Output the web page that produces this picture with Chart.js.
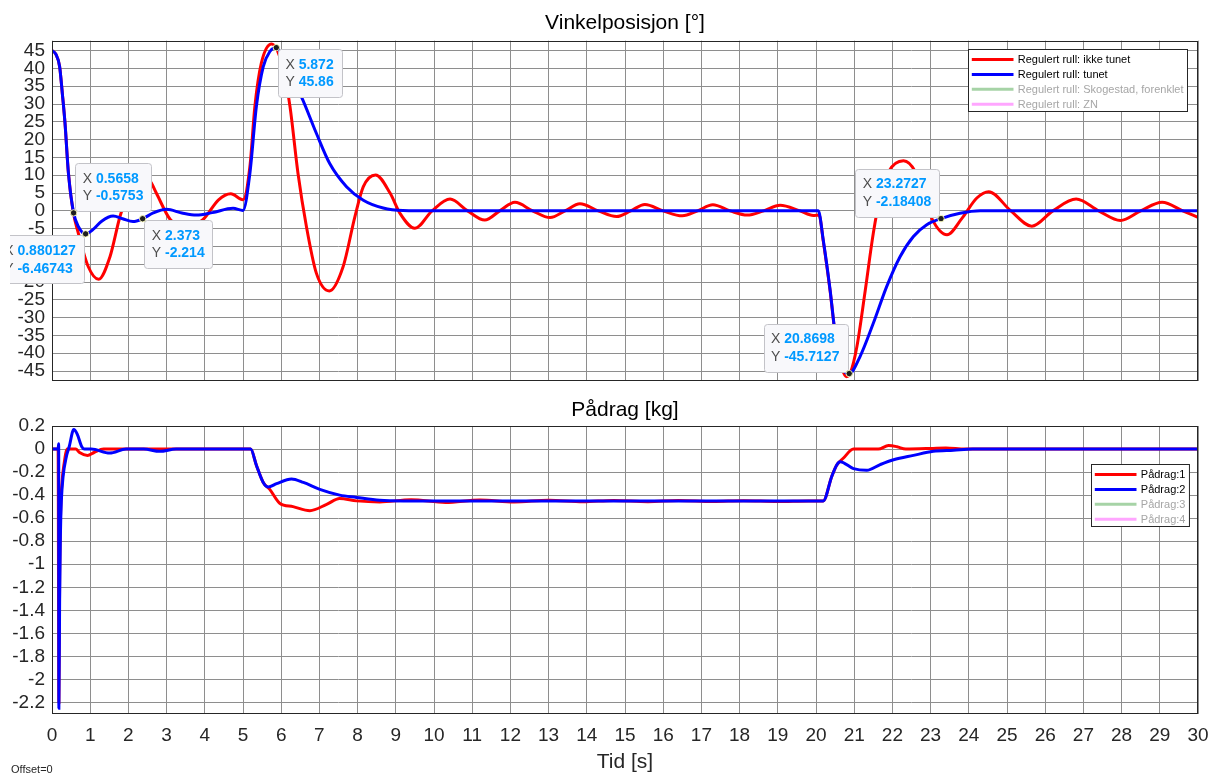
<!DOCTYPE html>
<html lang="no">
<head>
<meta charset="UTF-8">
<title>Vinkelposisjon og pådrag</title>
<script src="https://cdn.jsdelivr.net/npm/chart.js@4.4.1/dist/chart.umd.min.js"></script>
<style>
  html, body { margin: 0; padding: 0; background: #fff; }
  #wrap { position: relative; width: 1210px; height: 776px; overflow: hidden; }
  #vinkel { position: absolute; left: 0; top: 0; }
  #padrag { position: absolute; left: 0; top: 390px; }
  .offset { position: absolute; left: 11px; top: 763px; font: 11px "Liberation Sans", Arial, sans-serif; color: #262626; }
</style>
</head>
<body>
<div id="wrap">
  <canvas id="vinkel" width="1210" height="390"></canvas>
  <canvas id="padrag" width="1210" height="386"></canvas>
  <div class="offset">Offset=0</div>
</div>

<script>
// rulleposisjon, ikke tunet regulator
var tRull1 = [0, 0.1, 0.2, 0.27, 0.34, 0.43, 0.55, 0.69, 0.95, 1.22,
  1.52, 1.78, 2.05, 2.35, 2.56, 2.73, 3.1, 3.5, 3.95, 4.36,
  4.68, 5.0, 5.18, 5.31, 5.48, 5.75, 6.05, 6.23, 6.44, 6.66,
  6.92, 7.26, 7.62, 7.93, 8.15, 8.47, 8.85, 9.11, 9.5, 9.95,
  10.42, 10.88, 11.33, 11.72, 12.12, 12.58, 13.04, 13.43, 13.82, 14.3,
  14.78, 15.15, 15.52, 16.0, 16.5, 16.9, 17.3, 17.75, 18.2, 18.63,
  19.06, 19.58, 19.93, 20.08, 20.19, 20.37, 20.5, 20.68, 20.8, 20.9,
  21.07, 21.29, 21.5, 21.68, 21.9, 22.29, 22.6, 22.85, 23.03, 23.43,
  23.82, 24.21, 24.52, 25.1, 25.65, 26.2, 26.81, 27.4, 27.97, 28.5,
  29.06, 29.6, 30];
var rull1 = [45, 44, 40.5, 33, 24.7, 10.6, 0, -6.3, -15.7, -19.2,
  -12.8, -1.6, 6.5, 9.3, 8.5, 5.0, -2.5, -4.6, -2.5, 3.1,
  4.8, 3.1, 12.4, 29.3, 41.5, 46.9, 40, 29.3, 10.5, -4.4,
  -17.5, -22.5, -15.7, -1.6, 6.8, 10.1, 5.0, -0.7, -4.9, 0,
  3.3, 0, -2.6, 0, 2.4, 0, -1.9, 0, 2.0, 0,
  -1.6, 0, 1.8, 0, -1.4, 0, 1.7, 0, -1.2, 0,
  1.55, 0, -1.3, -1.2, -8.5, -22.5, -34.5, -44.2, -46.6, -45.5,
  -38.2, -22.3, -6.3, 4.0, 11.0, 14.1, 11.0, 3.5, -2.1, -6.7,
  -2.1, 3.6, 5.4, 0, -4.3, 0, 3.3, 0, -2.7, 0,
  2.4, 0, -1.8];

// rulleposisjon, tunet regulator
var tRull2 = [0, 0.1, 0.2, 0.27, 0.34, 0.43, 0.5658, 0.7, 0.880127, 1.1,
  1.3, 1.6, 1.85, 2.12, 2.373, 2.65, 3.0, 3.4, 3.78, 4.2,
  4.74, 5.0, 5.18, 5.35, 5.53, 5.7, 5.872, 6.1, 6.53, 6.92,
  7.27, 7.71, 8.15, 8.67, 9.19, 10, 20.06, 20.19, 20.37, 20.5,
  20.68, 20.8698, 21.15, 21.5, 21.85, 22.2, 22.55, 22.9, 23.2727, 23.77,
  24.3, 30];
var rull2 = [45, 44, 40.5, 33, 24.7, 10.6, -0.5753, -4.6, -6.46743, -5.0,
  -2.9, -1.45, -2.2, -3.0, -2.214, -0.6, 0.43, -0.6, -1.2, -0.5,
  0.7, 0.1, 10.5, 29.3, 40.5, 44.7, 45.86, 41, 32, 21.8,
  13.3, 6.8, 3.0, 0.8, 0.1, 0, 0, -8.2, -22.3, -34.3,
  -43.9, -45.7127, -41, -31.6, -21.3, -12.9, -7.2, -3.9, -2.18408, -0.7,
  0, 0];

// pådrag 1 (ikke tunet)
var tPadrag1 = [0, 0.16, 0.18, 0.2, 0.225, 0.26, 0.32, 0.4, 0.62, 0.72,
  0.93, 1.1, 1.35, 5.2, 5.35, 5.53, 5.7, 5.96, 6.31, 6.75,
  7.19, 7.53, 7.97, 8.58, 9.4, 10.3, 11.2, 12.1, 13.0, 13.9,
  14.7, 15.6, 16.4, 17.3, 18.1, 19.0, 19.8, 20.19, 20.41, 20.54,
  20.72, 20.98, 21.63, 21.9, 22.12, 22.35, 23.0, 23.4, 23.9, 30];
var padrag1 = [0, 0, -2.2, -1.1, -0.55, -0.3, -0.12, 0, 0, -0.03,
  -0.055, -0.03, 0, 0, -0.14, -0.29, -0.35, -0.47, -0.50, -0.535,
  -0.48, -0.43, -0.45, -0.46, -0.44, -0.463, -0.442, -0.46, -0.444, -0.458,
  -0.446, -0.457, -0.447, -0.456, -0.448, -0.455, -0.45, -0.45, -0.24, -0.14,
  -0.078, 0, 0, 0.03, 0.02, 0, 0.005, 0.01, 0, 0];

// pådrag 2 (tunet)
var tPadrag2 = [0, 0.16, 0.175, 0.18, 0.2, 0.22, 0.245, 0.29, 0.38, 0.45,
  0.57, 0.66, 0.78, 0.85, 1.03, 1.51, 1.94, 2.4, 2.82, 3.25,
  5.2, 5.35, 5.53, 5.66, 5.88, 6.27, 6.58, 7.01, 7.53, 7.97,
  8.58, 9.2, 20.19, 20.41, 20.54, 20.63, 20.98, 21.33, 21.68, 22.03,
  22.55, 23.07, 23.6, 24.1, 30];
var padrag2 = [0, 0, 0.045, -2.25, -1.3, -0.75, -0.45, -0.24, -0.06, 0.02,
  0.17, 0.13, 0.02, 0, 0, -0.035, 0, 0, -0.02, 0,
  0, -0.14, -0.29, -0.33, -0.30, -0.26, -0.29, -0.35, -0.40, -0.42,
  -0.445, -0.45, -0.45, -0.24, -0.14, -0.11, -0.17, -0.185, -0.135, -0.093,
  -0.055, -0.02, -0.01, 0, 0];

// datatips i vinkelplottet
var tipX = [0.5658, 0.880127, 2.373, 5.872, 20.8698, 23.2727];
var tipY = [-0.5753, -6.46743, -2.214, 45.86, -45.7127, -2.18408];

var rullNavn = ['Regulert rull: ikke tunet', 'Regulert rull: tunet',
  'Regulert rull: Skogestad, forenklet', 'Regulert rull: ZN'];
var padragNavn = ['Pådrag:1', 'Pådrag:2', 'Pådrag:3', 'Pådrag:4'];

var FONT = '"Liberation Sans", Arial, Helvetica, sans-serif';
var GRID = '#8e8e8e';
var AXIS = '#262626';
var colors = ['#ff0000', '#0000ff', '#008000', '#ff00ff'];

Chart.defaults.font.family = FONT;

function pts(t, v) {
  return t.map(function (x, i) { return { x: x, y: v[i] }; });
}

function lag(navn, serier) {
  return navn.map(function (n, i) {
    return {
      label: n,
      data: serier[i] || [],
      borderColor: colors[i],
      backgroundColor: colors[i],
      borderWidth: 3,
      pointRadius: 0,
      fill: false,
      cubicInterpolationMode: 'monotone',
      hidden: !serier[i],
      order: i === 0 ? 2 : 1
    };
  });
}

// ramme rundt plotteområdet
var boks = {
  id: 'boks',
  afterDatasetsDraw: function (chart) {
    var a = chart.chartArea, ctx = chart.ctx;
    ctx.save();
    ctx.strokeStyle = AXIS;
    ctx.lineWidth = 1;
    ctx.strokeRect(Math.round(a.left) + 0.5, Math.round(a.top) + 0.5,
      Math.round(a.right - a.left) - 1, Math.round(a.bottom - a.top) - 1);
    ctx.restore();
  }
};

// legend i hjørnet, skjulte linjer vises bleke
var figLegend = {
  id: 'figLegend',
  afterDraw: function (chart, args, opts) {
    var ctx = chart.ctx, a = chart.chartArea, sets = chart.data.datasets;
    ctx.save();
    ctx.font = '11px ' + FONT;
    var maxW = 0;
    sets.forEach(function (d) { maxW = Math.max(maxW, ctx.measureText(d.label).width); });
    var rowH = 14.9;
    var w = 49.3 + maxW + 4;
    var h = 10 + (sets.length - 1) * rowH + 7.3;
    var x0 = Math.round(a.right - opts.right - w) + 0.5;
    var y0 = Math.round(a.top + opts.top) + 0.5;
    ctx.fillStyle = '#fff';
    ctx.fillRect(x0, y0, w, h);
    ctx.strokeStyle = AXIS;
    ctx.lineWidth = 1;
    ctx.strokeRect(x0, y0, w, h);
    sets.forEach(function (d, i) {
      var y = y0 + 10 + i * rowH;
      var vis = chart.isDatasetVisible(i);
      ctx.globalAlpha = vis ? 1 : 0.35;
      ctx.strokeStyle = d.borderColor;
      ctx.lineWidth = 3;
      ctx.beginPath();
      ctx.moveTo(x0 + 3.3, y);
      ctx.lineTo(x0 + 45, y);
      ctx.stroke();
      ctx.globalAlpha = 1;
      ctx.fillStyle = vis ? '#000' : '#a6a6a6';
      ctx.textBaseline = 'middle';
      ctx.textAlign = 'left';
      ctx.fillText(d.label, x0 + 49.3, y + 0.5);
    });
    ctx.restore();
  }
};

// datatips: punkt + boks med X/Y-verdier
var datatips = {
  id: 'datatips',
  afterDraw: function (chart, args, opts) {
    var ctx = chart.ctx, xs = chart.scales.x, ys = chart.scales.y;
    ctx.save();
    ctx.beginPath();
    ctx.rect(10, 0, chart.width, chart.height);
    ctx.clip();
    tipX.forEach(function (tx, i) {
      var px = xs.getPixelForValue(tx);
      var py = ys.getPixelForValue(tipY[i]);
      var sx = String(tx), sy = String(tipY[i]);
      ctx.font = 'bold 14px ' + FONT;
      var vw = Math.max(ctx.measureText(sx).width, ctx.measureText(sy).width);
      ctx.font = '14px ' + FONT;
      var lw = ctx.measureText('X ').width;
      var w = 7.3 + lw + vw + 8, h = 48;
      var p = opts.placement[i];
      var bx = p[1] === 'e' ? px + 1.8 : px - 1.8 - w;
      var by = p[0] === 's' ? py + 1.5 : py - 1.8 - h;

      ctx.fillStyle = '#f8f8fb';
      ctx.strokeStyle = '#c3c3c8';
      ctx.lineWidth = 1;
      ctx.beginPath();
      ctx.roundRect(Math.round(bx) + 0.5, Math.round(by) + 0.5, Math.round(w), Math.round(h), 3);
      ctx.fill();
      ctx.stroke();

      ctx.textBaseline = 'middle';
      ctx.textAlign = 'left';
      [['X', sx], ['Y', sy]].forEach(function (r, k) {
        var ty = by + 15.8 + k * 17.6;
        ctx.font = '14px ' + FONT;
        ctx.fillStyle = '#4d4d4d';
        ctx.fillText(r[0], bx + 7.3, ty);
        ctx.font = 'bold 14px ' + FONT;
        ctx.fillStyle = '#0099ff';
        ctx.fillText(r[1], bx + 7.3 + lw, ty);
      });

      ctx.beginPath();
      ctx.arc(px, py, 3.2, 0, Math.PI * 2);
      ctx.fillStyle = '#1e1e1e';
      ctx.fill();
      ctx.strokeStyle = 'rgba(255,255,190,0.9)';
      ctx.lineWidth = 1;
      ctx.stroke();
    });
    ctx.restore();
  }
};

function yAkse(min, max, step, fmt) {
  return {
    type: 'linear',
    min: min,
    max: max,
    ticks: {
      stepSize: step,
      includeBounds: false,
      autoSkip: false,
      padding: 7,
      color: AXIS,
      font: { size: 19 },
      callback: fmt
    },
    grid: { color: GRID, lineWidth: 1, drawTicks: false },
    border: { display: false },
    afterFit: function (s) { s.width = 52; s.paddingTop = 0; s.paddingBottom = 0; }
  };
}

function xAkse(medTekst) {
  var ax = {
    type: 'linear',
    min: 0,
    max: 30,
    ticks: {
      stepSize: 1,
      display: medTekst,
      padding: 10.5,
      color: AXIS,
      font: { size: 19 },
      maxRotation: 0,
      autoSkip: false
    },
    grid: { color: GRID, lineWidth: 1, drawTicks: false },
    border: { display: false },
    afterFit: function (s) {
      s.height = medTekst ? 62 : 0;
      s.paddingLeft = 0;
      s.paddingRight = 0;
    }
  };
  if (medTekst) {
    ax.title = { display: true, text: 'Tid [s]', color: AXIS, font: { size: 21 }, padding: { top: 0, bottom: 1.4 } };
  }
  return ax;
}

function tittel(tekst, top, bottom) {
  return {
    display: true,
    text: tekst,
    fullSize: false,
    color: '#000',
    font: { size: 21, weight: 'normal' },
    padding: { top: top, bottom: bottom }
  };
}

new Chart(document.getElementById('vinkel'), {
  type: 'line',
  data: { datasets: lag(rullNavn, [pts(tRull1, rull1), pts(tRull2, rull2)]) },
  options: {
    responsive: false,
    animation: false,
    events: [],
    layout: { padding: { left: 0, right: 12, top: 0, bottom: 9 } },
    plugins: {
      legend: { display: false },
      tooltip: { enabled: false },
      title: tittel('Vinkelposisjon [°]', 11, 4.5),
      figLegend: { right: 11, top: 8.3 },
      datatips: { placement: ['ne', 'sw', 'se', 'se', 'nw', 'nw'] }
    },
    scales: {
      x: xAkse(false),
      y: yAkse(-47.8, 47.8, 5, function (v) { return String(v); })
    }
  },
  plugins: [boks, figLegend, datatips]
});

new Chart(document.getElementById('padrag'), {
  type: 'line',
  data: { datasets: lag(padragNavn, [pts(tPadrag1, padrag1), pts(tPadrag2, padrag2)]) },
  options: {
    responsive: false,
    animation: false,
    events: [],
    layout: { padding: { left: 0, right: 12, top: 0, bottom: 0 } },
    plugins: {
      legend: { display: false },
      tooltip: { enabled: false },
      title: tittel('Pådrag [kg]', 7.7, 3.1),
      figLegend: { right: 8.7, top: 37.7 }
    },
    scales: {
      x: xAkse(true),
      y: yAkse(-2.3, 0.2, 0.2, function (v) { return String(Math.round(v * 10) / 10); })
    }
  },
  plugins: [boks, figLegend]
});
</script>
</body>
</html>
